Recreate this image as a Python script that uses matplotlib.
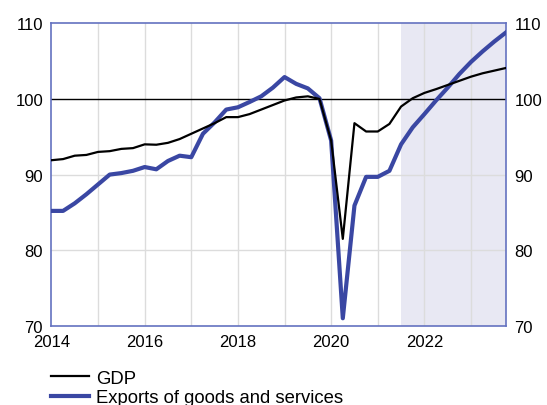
import numpy as np
import matplotlib.pyplot as plt

plt.rcParams['font.family'] = ['Liberation Sans', 'DejaVu Sans']

# quarterly, 2014Q1 .. 2023Q4 (index, 2019Q4 = 100)
gdp = [91.9, 92.05, 92.5, 92.6, 93.0, 93.1, 93.4, 93.5,
       94.0, 93.95, 94.2, 94.7, 95.4, 96.1, 96.8, 97.6,
       97.6, 98.0, 98.6, 99.2, 99.8, 100.2, 100.35, 100.0,
       94.5, 81.5, 96.8, 95.7, 95.7, 96.7, 99.0, 100.1,
       100.8, 101.3, 101.85, 102.4, 102.95, 103.4, 103.75, 104.1]
exports = [85.2, 85.2, 86.2, 87.4, 88.7, 90.0, 90.2, 90.5,
           91.0, 90.7, 91.8, 92.5, 92.3, 95.4, 96.9, 98.6,
           98.9, 99.6, 100.35, 101.5, 102.9, 102.0, 101.4, 100.1,
           94.5, 71.0, 85.9, 89.7, 89.7, 90.5, 94.0, 96.25,
           98.0, 99.8, 101.5, 103.3, 104.9, 106.3, 107.6, 108.8]
start_year = 2014
projection_start = 2021.5
year_ticks = [2014, 2016, 2018, 2020, 2022]
y_ticks = [70, 80, 90, 100, 110]

x = start_year + np.arange(len(gdp)) / 4

spine_col = '#6472c0'
blue = '#3a47a3'

fig = plt.figure(figsize=(5.47, 4.06), dpi=100)
ax = fig.add_axes([0.094, 0.195, 0.831, 0.745])

ax.axvspan(projection_start, x[-1], color='#e8e8f3', lw=0, zorder=0)
for yr in range(start_year + 1, 2024):
    ax.axvline(yr, color='#dcdcdc', lw=1, zorder=1)
for v in [80, 90]:
    ax.axhline(v, color='#dcdcdc', lw=1, zorder=1)
ax.axhline(100, color='black', lw=1, zorder=2)

l1, = ax.plot(x, gdp, color='black', lw=1.6, zorder=4, label='GDP')
l2, = ax.plot(x, exports, color=blue, lw=3, zorder=3,
              label='Exports of goods and services')

ax.set_xlim(start_year, x[-1])
ax.set_ylim(70, 110)
ax.set_xticks(year_ticks)
ax.set_yticks(y_ticks)
ax.tick_params(length=0, labelsize=12, pad=6)
ax.tick_params(axis='y', labelright=True, pad=6)
for s in ax.spines.values():
    s.set_color(spine_col)
    s.set_linewidth(1.2)

fig.legend(handles=[l1, l2], loc='upper left', bbox_to_anchor=(0.08, 0.105),
           frameon=False, fontsize=13.3, handlelength=2.05, handletextpad=0.4,
           labelspacing=0.12, borderaxespad=0)

fig.savefig('out.png', dpi=100)
